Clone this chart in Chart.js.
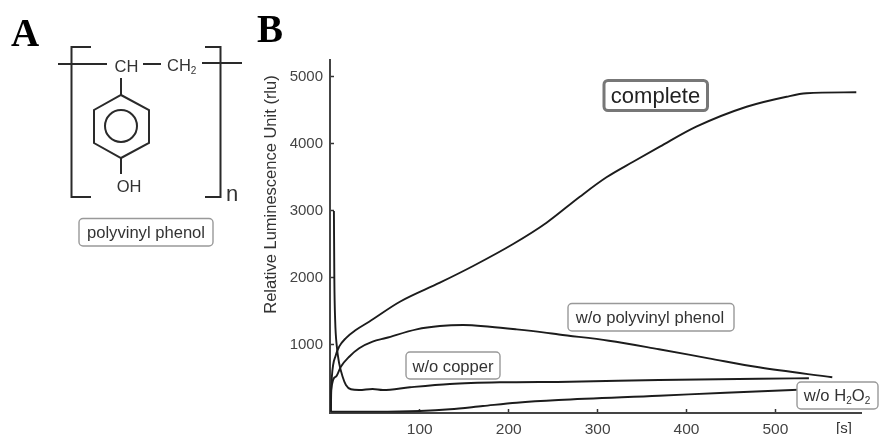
<!DOCTYPE html>
<html>
<head>
<meta charset="utf-8">
<script src="https://cdn.jsdelivr.net/npm/chart.js@4"></script>
<style>
html,body{margin:0;padding:0;background:#fff}
#wrap{position:relative;width:879px;height:434px;overflow:hidden;filter:blur(0.4px)}
canvas{position:absolute;left:0;top:0}
svg{position:absolute;left:0;top:0}
text{font-family:"Liberation Sans",Arial,sans-serif;fill:#333}
.panel{font-family:"Liberation Serif",serif;font-weight:bold;font-size:39px;fill:#000}
</style>
</head>
<body>
<div id="wrap">
<canvas id="c" width="879" height="434"></canvas>
<svg width="879" height="434" viewBox="0 0 879 434" xmlns="http://www.w3.org/2000/svg">
  <text class="panel" x="11" y="46">A</text>
  <text class="panel" x="257" y="42">B</text>
  <g fill="none" stroke="#2a2a2a" stroke-width="2">
    <path d="M91 47H71.5V197H91"/>
    <path d="M205 47H220.5V197H205"/>
    <path d="M58 64H107M143 64H161M202 63H242"/>
    <path d="M121 78V95M121 158V174"/>
    <path d="M121 95L149 110V143L121 158L94 143V110Z"/>
    <circle cx="121" cy="126" r="16"/>
  </g>
  <text x="126.5" y="72" font-size="16.5" text-anchor="middle">CH</text>
  <text x="167" y="71" font-size="16.5">CH<tspan font-size="10" dy="3">2</tspan></text>
  <text x="129" y="192" font-size="16.5" text-anchor="middle">OH</text>
  <text x="226" y="201" font-size="22">n</text>

  <g fill="#fff" stroke="#999" stroke-width="1.4">
    <rect x="79" y="218.5" width="134" height="27.5" rx="4"/>
    <rect x="568" y="303.5" width="166" height="27.5" rx="4"/>
    <rect x="406" y="352" width="94" height="27" rx="4"/>
    <rect x="797" y="382" width="81" height="27" rx="4"/>
    <rect x="604" y="80.5" width="103.5" height="30" rx="4" stroke="#777" stroke-width="3"/>
  </g>
  <text x="146" y="238" font-size="16.6" text-anchor="middle">polyvinyl phenol</text>
  <text x="650" y="323" font-size="16.6" text-anchor="middle">w/o polyvinyl phenol</text>
  <text x="453" y="372" font-size="16.6" text-anchor="middle">w/o copper</text>
  <text x="837" y="401" font-size="16.6" text-anchor="middle">w/o H<tspan font-size="10" dy="3">2</tspan><tspan dy="-3">O</tspan><tspan font-size="10" dy="3">2</tspan></text>
  <text x="655.5" y="103" font-size="22" text-anchor="middle" style="fill:#222">complete</text>

  <text transform="translate(275.5,194.5) rotate(-90)" font-size="16.5" text-anchor="middle">Relative Luminescence Unit (rlu)</text>
  <text x="844" y="433" font-size="15" text-anchor="middle">[s]</text>
</svg>
</div>
<script>
const xTickValues = [100, 200, 300, 400, 500];
const yTickValues = [1000, 2000, 3000, 4000, 5000];

const completeX = [0, 0.3, 1.1, 5.6, 9.3, 16.9, 28, 43, 77.6, 122.6, 160, 205, 242.6, 280, 310, 340, 370, 411, 467.6, 512.6, 535, 591];
const completeY = [0, 280, 522, 846, 970, 1099, 1219, 1343, 1641, 1925, 2174, 2502, 2820, 3208, 3498, 3730, 3955, 4253, 4551, 4701, 4752, 4767];

const noPhenolX = [0, 0.3, 5.6, 11.2, 20.6, 31.8, 46.9, 61.9, 96.4, 122.6, 148.8, 178.9, 208.9, 238.8, 256.5, 312.7, 369, 425, 481.4, 564];
const noPhenolY = [0, 323, 522, 671, 820, 946, 1044, 1099, 1229, 1279, 1294, 1268, 1229, 1184, 1152, 1059, 931, 796, 662, 513];

const noCopperX = [3.4, 3.9, 4.8, 6.7, 9.3, 13.2, 16.9, 22.5, 31.8, 46.9, 58.5, 88.9, 133.9, 190, 268.8, 369, 481, 537.7];
const noCopperY = [2995, 1965, 1368, 970, 722, 522, 398, 334, 323, 338, 323, 364, 413, 438, 447, 473, 492, 498];

const noPeroxideX = [0, 50, 100, 134, 171, 209, 256, 369, 444, 519, 533];
const noPeroxideY = [0, 0, 10, 35, 84, 134, 174, 238, 283, 323, 331];

const pairs = (xs, ys) => xs.map((x, i) => ({x, y: ys[i]}));
const line = (label, xs, ys) => ({
  label, data: pairs(xs, ys), borderColor: '#1c1c1c', borderWidth: 1.9,
  pointRadius: 0, cubicInterpolationMode: 'monotone', fill: false
});

new Chart(document.getElementById('c'), {
  type: 'line',
  data: { datasets: [
    line('complete', completeX, completeY),
    line('w/o polyvinyl phenol', noPhenolX, noPhenolY),
    line('w/o copper', noCopperX, noCopperY),
    line('w/o H2O2', noPeroxideX, noPeroxideY)
  ]},
  options: {
    responsive: false, animation: false, parsing: false,
    layout: { padding: { left: 262, top: 60, right: 18, bottom: 0 } },
    plugins: { legend: { display: false }, tooltip: { enabled: false } },
    scales: {
      x: {
        type: 'linear', min: -1, max: 596.3,
        afterBuildTicks: s => { s.ticks = xTickValues.map(v => ({value: v})); },
        afterFit: s => { s.height = 21; },
        grid: { drawOnChartArea: false, tickLength: -4, tickColor: '#333', tickWidth: 1.5 },
        border: { color: '#444', width: 2 },
        ticks: { color: '#444', font: { family: '"Liberation Sans"', size: 15.5 }, padding: 11, maxRotation: 0, callback: v => String(v) }
      },
      y: {
        type: 'linear', min: -20, max: 5249,
        afterBuildTicks: s => { s.ticks = yTickValues.map(v => ({value: v})); },
        afterFit: s => { s.width = 68; },
        grid: { drawOnChartArea: false, tickLength: -4, tickColor: '#333', tickWidth: 1.5 },
        border: { color: '#444', width: 2 },
        ticks: { color: '#444', font: { family: '"Liberation Sans"', size: 15 }, padding: 11, callback: v => String(v) }
      }
    }
  }
});
</script>
</body>
</html>
